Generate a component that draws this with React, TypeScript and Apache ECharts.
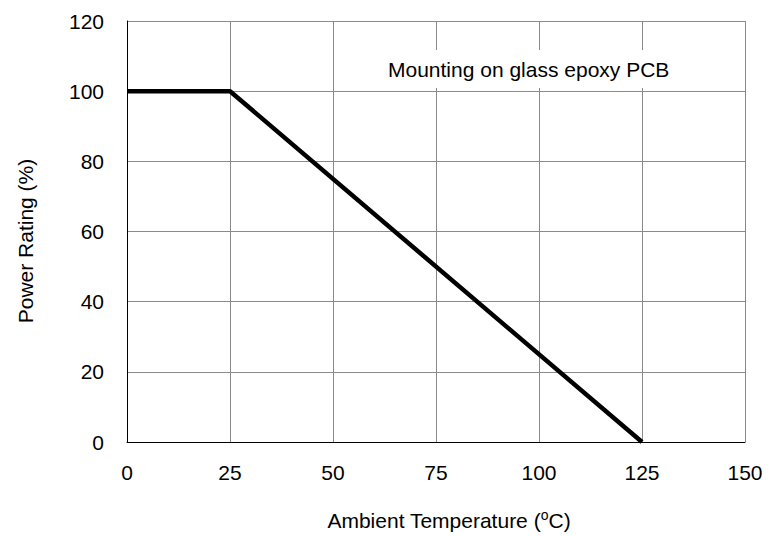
import React, { useEffect, useRef } from "react";
import * as echarts from "echarts";

const temperature = [0, 25, 125];
const powerRating = [100, 100, 0];
const xTicks = [0, 25, 50, 75, 100, 125, 150];
const yTicks = [0, 20, 40, 60, 80, 100, 120];
const note = "Mounting on glass epoxy PCB";
const xTitle = "Ambient Temperature (";
const yTitle = "Power Rating (%)";

export default function App() {
  const ref = useRef<HTMLDivElement>(null);
  useEffect(() => {
    document.body.style.margin = "0";
    const chart = echarts.init(ref.current!, undefined, { renderer: "svg" });
    const font = "Liberation Sans, Arial, sans-serif";
    chart.setOption({
      animation: false,
      backgroundColor: "#ffffff",
      grid: { left: 127, right: 33, top: 21, bottom: 94, containLabel: false },
      xAxis: {
        type: "value",
        min: xTicks[0],
        max: xTicks[xTicks.length - 1],
        interval: 25,
        axisLine: { show: true, onZero: false, lineStyle: { color: "#000", width: 1 } },
        axisTick: { show: false },
        splitLine: { show: true, lineStyle: { color: "#8a8a8a", width: 1 } },
        axisLabel: { color: "#000", fontSize: 21, fontFamily: font, margin: 20 },
      },
      yAxis: {
        type: "value",
        min: yTicks[0],
        max: yTicks[yTicks.length - 1],
        interval: 20,
        axisLine: { show: true, lineStyle: { color: "#000", width: 1 } },
        axisTick: { show: false },
        splitLine: { show: true, lineStyle: { color: "#8a8a8a", width: 1 } },
        axisLabel: { color: "#000", fontSize: 21, fontFamily: font, margin: 23 },
      },
      series: [
        {
          type: "line",
          data: temperature.map((t, i) => [t, powerRating[i]]),
          symbol: "none",
          lineStyle: { color: "#000", width: 4.5 },
          z: 5,
        },
      ],
      graphic: [
        {
          type: "rect",
          shape: { x: 380, y: 50, width: 364, height: 38 },
          style: { fill: "#ffffff" },
          z: 3,
        },
        {
          type: "text",
          x: 388,
          y: 69,
          z: 4,
          style: {
            text: note,
            fill: "#000",
            font: `21px ${font}`,
            textVerticalAlign: "middle",
          },
        },
        {
          type: "text",
          x: 449,
          y: 520,
          z: 4,
          style: {
            text: `{n|${xTitle}}{s|o}{n|C)}`,
            rich: {
              n: { fontSize: 21, fontFamily: font, fill: "#000", color: "#000" },
              s: { fontSize: 14, fontFamily: font, fill: "#000", color: "#000", padding: [0, 0, 10, 0] },
            },
            align: "center",
            verticalAlign: "middle",
          },
        },
        {
          type: "text",
          x: 25,
          y: 241,
          rotation: Math.PI / 2,
          z: 4,
          style: {
            text: yTitle,
            fill: "#000",
            font: `21px ${font}`,
            align: "center",
            verticalAlign: "middle",
          },
        },
      ],
    });
    return () => chart.dispose();
  }, []);
  return <div ref={ref} style={{ width: 778, height: 536 }} />;
}
